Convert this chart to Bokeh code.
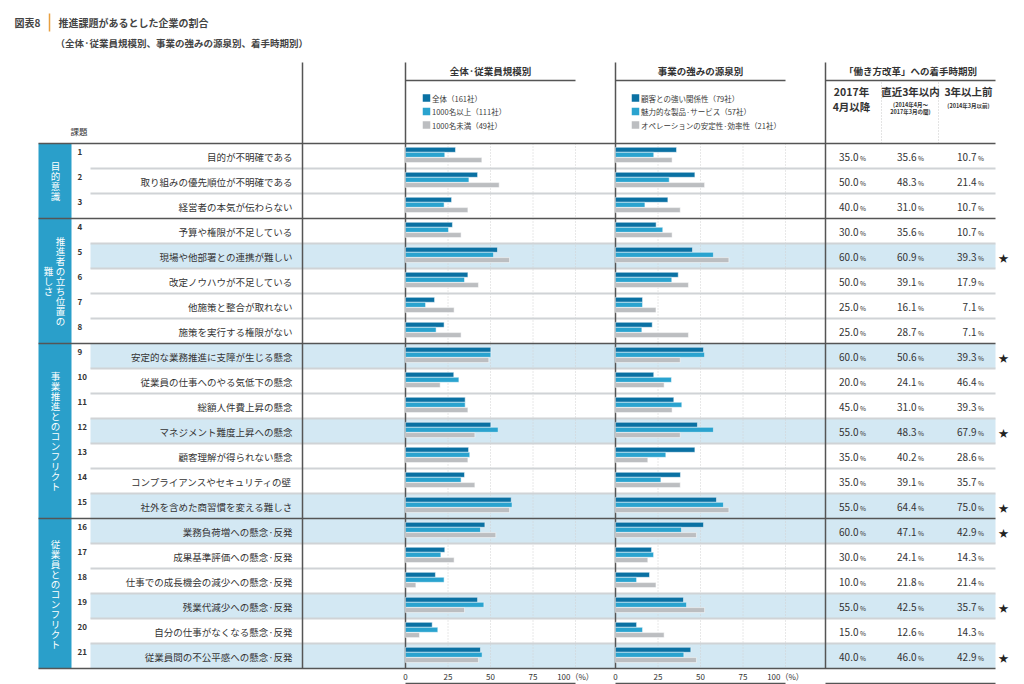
from bokeh.plotting import figure
from bokeh.models import Range1d
from bokeh.core.properties import value
from bokeh.embed import file_html
from bokeh.resources import INLINE

FONT = "Noto Sans CJK JP"

# ---------------- data ----------------
fig_label = "図表8"
title_text = "推進課題があるとした企業の割合"
subtitle_text = "（全体·従業員規模別、事業の強みの源泉別、着手時期別）"

panel_titles = ["全体·従業員規模別", "事業の強みの源泉別", "「働き方改革」への着手時期別"]
header_item = "課題"

groups = ["目的意識", "推進者の立ち位置の難しさ", "事業推進とのコンフリクト", "従業員とのコンフリクト"]
group_columns = [["目的意識"], ["推進者の立ち位置の", "難しさ"], ["事業推進とのコンフリクト"], ["従業員とのコンフリクト"]]
group_sizes = [3, 5, 7, 6]

items = [
    "目的が不明確である",
    "取り組みの優先順位が不明確である",
    "経営者の本気が伝わらない",
    "予算や権限が不足している",
    "現場や他部署との連携が難しい",
    "改定ノウハウが不足している",
    "他施策と整合が取れない",
    "施策を実行する権限がない",
    "安定的な業務推進に支障が生じる懸念",
    "従業員の仕事へのやる気低下の懸念",
    "総額人件費上昇の懸念",
    "マネジメント難度上昇への懸念",
    "顧客理解が得られない懸念",
    "コンプライアンスやセキュリティの壁",
    "社外を含めた商習慣を変える難しさ",
    "業務負荷増への懸念·反発",
    "成果基準評価への懸念·反発",
    "仕事での成長機会の減少への懸念·反発",
    "残業代減少への懸念·反発",
    "自分の仕事がなくなる懸念·反発",
    "従業員間の不公平感への懸念·反発",
]

size_series = ["全体（161社）", "1000名以上（111社）", "1000名未満（49社）"]
size_all = [29.4, 42.4, 27.1, 27.6, 54.1, 36.7, 17.1, 22.7, 50.2, 28.4, 35.1,
            50.2, 37.1, 34.7, 62.2, 46.7, 23.1, 17.6, 42.4, 15.7, 44.1]
size_large = [23.1, 37.3, 22.7, 25.3, 51.8, 34.7, 11.8, 18.0, 50.2, 31.4, 35.1,
              54.5, 37.8, 32.7, 62.7, 44.1, 20.8, 22.7, 46.1, 19.0, 45.1]
size_small = [44.9, 55.1, 36.7, 32.7, 61.2, 42.9, 28.6, 32.7, 49.0, 20.4, 36.7,
              40.8, 36.7, 40.8, 61.2, 53.1, 28.6, 6.1, 34.7, 8.2, 42.9]

strength_series = ["顧客との強い関係性（79社）", "魅力的な製品·サービス（57社）", "オペレーションの安定性·効率性（21社）"]
strength_rel = [35.9, 46.7, 30.8, 23.9, 45.3, 36.9, 15.9, 21.6, 51.8, 22.5, 34.3,
                48.2, 46.7, 38.2, 59.4, 51.8, 21.2, 20.0, 40.0, 12.4, 44.3]
strength_prod = [22.5, 31.6, 17.3, 27.8, 57.6, 33.1, 15.9, 15.5, 52.4, 32.9, 39.0,
                 57.6, 29.6, 26.7, 63.5, 38.8, 22.4, 12.4, 41.8, 15.9, 40.2]
strength_ops = [33.3, 52.4, 38.1, 33.3, 66.7, 42.9, 23.8, 42.9, 38.1, 28.6, 33.3,
                38.1, 19.0, 38.1, 66.7, 47.6, 19.0, 23.8, 52.4, 28.6, 47.6]

timing_heads = ["2017年\n4月以降", "直近3年以内", "3年以上前"]
timing_notes = ["", "(2014年4月〜\n2017年3月の間)", "(2014年3月以前)"]
timing_2017 = [35.0, 50.0, 40.0, 30.0, 60.0, 50.0, 25.0, 25.0, 60.0, 20.0, 45.0,
               55.0, 35.0, 35.0, 55.0, 60.0, 30.0, 10.0, 55.0, 15.0, 40.0]
timing_recent = [35.6, 48.3, 31.0, 35.6, 60.9, 39.1, 16.1, 28.7, 50.6, 24.1, 31.0,
                 48.3, 40.2, 39.1, 64.4, 47.1, 24.1, 21.8, 42.5, 12.6, 46.0]
timing_before = [10.7, 21.4, 10.7, 10.7, 39.3, 17.9, 7.1, 7.1, 39.3, 46.4, 39.3,
                 67.9, 28.6, 35.7, 75.0, 42.9, 14.3, 21.4, 35.7, 14.3, 42.9]

highlight = [False, False, False, False, True, False, False, False, True, False, False,
             True, False, False, True, True, False, False, True, False, True]

ticks = [0, 25, 50, 75, 100]
tick_labels = ["0", "25", "50", "75", "100（%）"]

# ---------------- layout constants ----------------
W, H = 1024, 684
ROW_TOP, ROW_H = 143, 25
N = len(items)
BOTTOM = ROW_TOP + ROW_H * N
PX_PER = 1.70
LEFT_X0, RIGHT_X0 = 405, 615
TABLE_X0, TABLE_X1 = 825, 995
C_DARK, C_MID, C_GRAY = "#0a71a3", "#2aa3cf", "#bcbec1"
C_CAT = "#2a9fca"
C_HI = "#d3e8f3"
C_LINE = "#555555"
C_TEXT = "#333333"

p = figure(width=W, height=H, x_range=Range1d(0, W), y_range=Range1d(H, 0),
           output_backend="svg", toolbar_location=None, min_border=0,
           background_fill_color="white", border_fill_color="white")
p.axis.visible = False
p.grid.visible = False
p.outline_line_color = None

p.extra_x_ranges = {
    "left": Range1d(-LEFT_X0 / PX_PER, (W - LEFT_X0) / PX_PER),
    "right": Range1d(-RIGHT_X0 / PX_PER, (W - RIGHT_X0) / PX_PER),
}

def tx(x, y, t, size, align="left", color=C_TEXT, bold=False, baseline="middle", rng=None, font=FONT):
    kw = {}
    if rng:
        kw["x_range_name"] = rng
    p.text(x=x, y=y, text=t, text_font=value(font), text_font_size=value(size),
           text_align=align, text_baseline=baseline, text_color=color,
           text_font_style="bold" if bold else "normal", **kw)

row_tops = [ROW_TOP + ROW_H * i for i in range(N)]
row_mid = [t + ROW_H / 2 for t in row_tops]

# highlighted rows
hi_tops = [t for t, h in zip(row_tops, highlight) if h]
p.quad(left=90, right=TABLE_X1, top=hi_tops, bottom=[t + ROW_H for t in hi_tops],
       fill_color=C_HI, line_color=None)

# category blocks
starts = []
s = 0
for g in group_sizes:
    starts.append(s)
    s += g
g_top = [ROW_TOP + ROW_H * st for st in starts]
g_bot = [ROW_TOP + ROW_H * (st + g) for st, g in zip(starts, group_sizes)]
p.quad(left=38, right=71, top=g_top, bottom=g_bot, fill_color=C_CAT, line_color=None)

# vertical category text
cx, cy, ct = [], [], []
for cols, t0, t1 in zip(group_columns, g_top, g_bot):
    center = (t0 + t1) / 2
    xs = [55] if len(cols) == 1 else [60, 48]
    for col, xc in zip(cols, xs):
        n = len(col)
        for k, ch in enumerate(col):
            cx.append(xc)
            cy.append(center - (n - 1) / 2 * 10 + k * 10)
            ct.append(ch)
tx(cx, cy, ct, "9.5px", align="center", color="white")

# gridlines in bar panels
for rng in ("left", "right"):
    p.segment(x0=ticks[1:], x1=ticks[1:], y0=[ROW_TOP] * 4, y1=[BOTTOM] * 4,
              x_range_name=rng, line_color="#d0d0d0", line_dash="1 2", line_width=1)
# table header dotted separators
p.segment(x0=[881, 938], x1=[881, 938], y0=[82, 82], y1=[ROW_TOP, ROW_TOP],
          line_color="#c8c8c8", line_dash="1 2", line_width=1)

# row separators
boundaries = set(g_top[1:])
light_y = [t for t in row_tops[1:] if t not in boundaries]
p.segment(x0=[90] * len(light_y), x1=[TABLE_X1] * len(light_y), y0=light_y, y1=light_y,
          line_color="#d0d3d6", line_width=2)
dark_y = [ROW_TOP] + sorted(boundaries) + [BOTTOM]
p.segment(x0=[38] * len(dark_y), x1=[TABLE_X1] * len(dark_y), y0=dark_y, y1=dark_y,
          line_color=C_LINE, line_width=1.6)

# vertical frame lines
vx = [302, LEFT_X0, RIGHT_X0, TABLE_X0]
p.segment(x0=vx, x1=vx, y0=[62] * 4, y1=[BOTTOM] * 4, line_color=C_LINE, line_width=1.5)
# header underlines
p.segment(x0=[LEFT_X0, RIGHT_X0, TABLE_X0], x1=[LEFT_X0 + 170, RIGHT_X0 + 170, TABLE_X1],
          y0=[80] * 3, y1=[80] * 3, line_color=C_LINE, line_width=1.5)
# bottom lines
p.segment(x0=[LEFT_X0, RIGHT_X0, TABLE_X0], x1=[LEFT_X0 + 170, RIGHT_X0 + 170, TABLE_X1],
          y0=[683] * 3, y1=[683] * 3, line_color=C_LINE, line_width=1.5)

# bars
offsets = [6.3, 11.3, 16.6]
colors = [C_DARK, C_MID, C_GRAY]
for rng, series in (("left", [size_all, size_large, size_small]),
                    ("right", [strength_rel, strength_prod, strength_ops])):
    for vals, off, col in zip(series, offsets, colors):
        p.hbar(y=[t + off for t in row_tops], height=5, left=0, right=vals,
               fill_color=col, line_color="white", line_width=0.5, x_range_name=rng)
    tx(ticks, [676] * 5, tick_labels, "8px", align="center", rng=rng)

# legends
for x0, names in ((422, size_series), (631, strength_series)):
    ly = [97.5, 111, 124.5]
    p.rect(x=[x0 + 4] * 3, y=ly, width=7.5, height=7.5, fill_color=colors, line_color=None)
    tx([x0 + 9.5] * 3, ly, names, "7.5px", color="#3a3a3a")

# titles
tx([14], [22], [fig_label], "10px", bold=True, color="#444444")
p.segment(x0=[49], x1=[49], y0=[13], y1=[31], line_color="#e8a040", line_width=1.5)
tx([58], [22], [title_text], "10px", bold=True, color="#444444")
tx([55], [42], [subtitle_text], "9.5px", bold=True, color="#444444")

# panel headers
tx([LEFT_X0 + 85, RIGHT_X0 + 85, (TABLE_X0 + TABLE_X1) / 2], [70] * 3, panel_titles,
   "9.5px", align="center", bold=True)
tx([70], [130], [header_item], "8.5px")

# table headers
tx([851], [91], ["2017年"], "10.5px", align="center", bold=True)
tx([851], [106], ["4月以降"], "10.5px", align="center", bold=True)
tx([910, 968], [91, 91], timing_heads[1:], "10.5px", align="center", bold=True)
tx([910, 910, 968], [104, 111, 105], ["(2014年4月〜", "2017年3月の間)", "(2014年3月以前)"],
   "5.5px", align="center", bold=True)

# row numbers and labels
tx([77] * N, [m - 4 for m in row_mid], [str(i + 1) for i in range(N)], "8px", bold=True)
tx([292] * N, [m + 1 for m in row_mid], items, "9.5px", align="right")

# table values
for xr, vals in ((858, timing_2017), (916, timing_recent), (976, timing_before)):
    tx([xr] * N, [m + 1 for m in row_mid], [f"{v:.1f}" for v in vals], "10px", align="right")
    tx([xr + 1.5] * N, [m + 1.5 for m in row_mid], ["%"] * N, "6.5px")

# stars
star_y = [m for m, h in zip(row_mid, highlight) if h]
tx([1003] * len(star_y), [y + 1 for y in star_y], ["★"] * len(star_y), "10px", align="center", color="#222222")

open("out.html", "w").write(file_html(p, INLINE))
